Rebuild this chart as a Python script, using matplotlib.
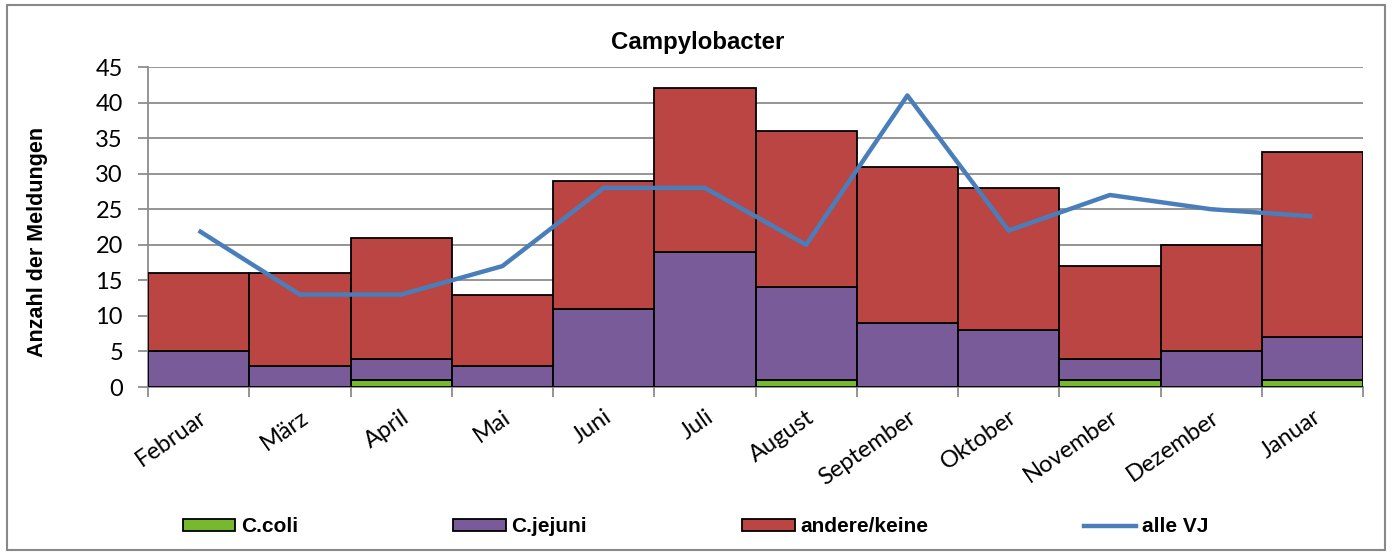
import matplotlib
matplotlib.use("Agg")
import matplotlib.pyplot as plt
from matplotlib.patches import Rectangle
from matplotlib.lines import Line2D
import numpy as np

months = ["Februar", "März", "April", "Mai", "Juni", "Juli", "August",
          "September", "Oktober", "November", "Dezember", "Januar"]
c_coli = [0, 0, 1, 0, 0, 0, 1, 0, 0, 1, 0, 1]
c_jejuni = [5, 3, 3, 3, 11, 19, 13, 9, 8, 3, 5, 6]
andere = [11, 13, 17, 10, 18, 23, 22, 22, 20, 13, 15, 26]
alle_vj = [22, 13, 13, 17, 28, 28, 20, 41, 22, 27, 25, 24]
yticks = [0, 5, 10, 15, 20, 25, 30, 35, 40, 45]

GREEN = "#77B82F"
PURPLE = "#7A5B9A"
RED = "#BB4543"
BLUE = "#4A7EBB"
GRID = "#8C8C8C"

fig = plt.figure(figsize=(13.92, 5.55), dpi=100)
ax = fig.add_axes([148/1392, 1-387/555, (1363-148)/1392, (387-67)/555])

x = np.arange(len(months))
coli = np.array(c_coli)
jej = np.array(c_jejuni)
oth = np.array(andere)
kw = dict(width=1.0, edgecolor="black", linewidth=1.3, zorder=3)
ax.bar(x, coli, color=GREEN, **kw)
ax.bar(x, jej, bottom=coli, color=PURPLE, **kw)
ax.bar(x, oth, bottom=coli + jej, color=RED, **kw)
ax.plot(x, alle_vj, color=BLUE, linewidth=3.2, zorder=4, solid_capstyle="butt")

ax.set_xlim(-0.5, len(months) - 0.5)
ax.set_ylim(0, 45)
ax.set_yticks(yticks)
ax.set_yticklabels([str(v) for v in yticks], fontsize=17, family="Lato")
ax.yaxis.grid(True, color=GRID, linewidth=1.3, zorder=0)
ax.set_axisbelow(True)

ax.set_xticks(np.arange(-0.5, len(months), 1.0))
ax.set_xticklabels([])
ax.set_xticks(x, minor=True)
ax.set_xticklabels(months, minor=True, rotation=35, ha="right",
                   rotation_mode="anchor", fontsize=17, family="Lato")
ax.tick_params(axis="x", which="minor", length=0, pad=14)
ax.tick_params(axis="x", which="major", length=7, color=GRID, width=1.3)
ax.tick_params(axis="y", length=7, color=GRID, width=1.3, pad=11)

for s in ["top", "right"]:
    ax.spines[s].set_visible(False)
for s in ["left", "bottom"]:
    ax.spines[s].set_color(GRID)
    ax.spines[s].set_linewidth(1.3)

ax.set_ylabel("Anzahl der Meldungen", fontsize=15.5, fontweight="bold",
              family="Liberation Sans", va="center")
ax.yaxis.set_label_coords((38 - 148) / 1215, (387 - 241.5) / 320)
fig.text(698/1392, 1 - 42/555, "Campylobacter", ha="center",
         va="center", fontsize=17.3, fontweight="bold", family="Liberation Sans")

handles = [
    Rectangle((0, 0), 1, 1, facecolor=GREEN, edgecolor="black", linewidth=1.3),
    Rectangle((0, 0), 1, 1, facecolor=PURPLE, edgecolor="black", linewidth=1.3),
    Rectangle((0, 0), 1, 1, facecolor=RED, edgecolor="black", linewidth=1.3),
    Line2D([0], [0], color=BLUE, linewidth=3.2),
]
labels = ["C.coli", "C.jejuni", "andere/keine", "alle VJ"]
leg = fig.legend(handles, labels, loc="center left",
                 bbox_to_anchor=(183/1392, 1 - 527/555), ncol=4, frameon=False,
                 prop={"family": "Liberation Sans", "weight": "bold", "size": 15},
                 handlelength=2.5, handleheight=0.48, handletextpad=0.29,
                 columnspacing=7.45, borderpad=0, borderaxespad=0)

fig.patches.append(Rectangle((7/1392, 5/555), 1378/1392, 545/555,
                             transform=fig.transFigure, fill=False,
                             edgecolor="#888888", linewidth=1.5))

fig.savefig("out.png", dpi=100)
